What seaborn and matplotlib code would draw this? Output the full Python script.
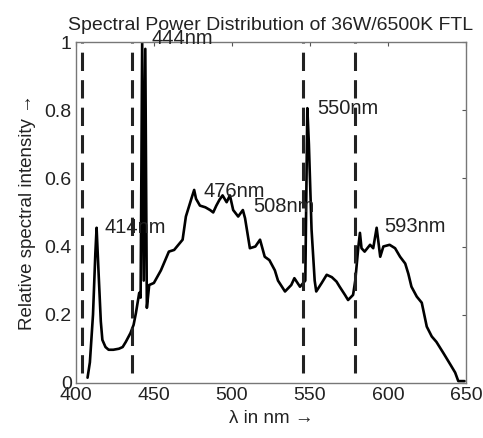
import matplotlib
matplotlib.use('Agg')
import matplotlib.pyplot as plt
import numpy as np
import pandas as pd
import seaborn as sns

# spectrum
wavelength = [407.5, 409, 411, 412.5, 413.3, 414.5, 416, 417, 419, 421, 424, 427.6, 430, 432,
              435, 437, 438.5, 440.6, 441.5, 442.5, 443.5, 444.5, 445.5, 447, 450, 454.5,
              459.6, 463, 468.4, 470.5, 474, 475.8, 477, 479.5, 483, 486, 488, 490, 492, 494,
              496.6, 498.7, 500.8, 504, 507, 508.4, 511.5, 515, 518, 521, 524, 527.5, 529.5,
              534, 538, 540, 543.6, 545.7, 547, 548.3, 549.3, 551, 553, 554, 557.5, 560.7,
              564, 567, 569, 572.4, 574.4, 577.6, 579, 581, 582, 583, 585, 588.5, 590.5,
              592.7, 595, 597, 601, 604.5, 607.7, 611, 613, 615, 618.4, 621.6, 624.8, 628,
              631, 635.5, 640, 643, 645, 649]
intensity = [0.015, 0.06, 0.2, 0.38, 0.455, 0.33, 0.18, 0.126, 0.105, 0.097, 0.097, 0.10, 0.105, 0.12,
             0.146, 0.17, 0.205, 0.264, 0.25, 1.0, 0.30, 0.98, 0.22, 0.287, 0.293, 0.33,
             0.385, 0.39, 0.42, 0.488, 0.54, 0.566, 0.54, 0.52, 0.515, 0.507, 0.50, 0.52, 0.537, 0.55,
             0.53, 0.55, 0.507, 0.488, 0.507, 0.483, 0.395, 0.40, 0.42, 0.37, 0.36, 0.33, 0.30,
             0.268, 0.287, 0.307, 0.282, 0.293, 0.30, 0.806, 0.70, 0.45, 0.30, 0.268, 0.293, 0.317,
             0.31, 0.297, 0.282, 0.258, 0.243, 0.258, 0.30, 0.40, 0.44, 0.395, 0.385, 0.405, 0.395,
             0.455, 0.37, 0.40, 0.405, 0.395, 0.37, 0.35, 0.32, 0.282, 0.253, 0.235, 0.165, 0.136,
             0.12, 0.087, 0.053, 0.03, 0.005, 0.005]

band_edges = [404, 436, 545.5, 579]

peak_labels = ['444nm', '414nm', '476nm', '508nm', '550nm', '593nm']
peak_label_x = [448.7, 418.6, 481.6, 513.7, 554.7, 597.4]
peak_label_y = [1.009, 0.455, 0.56, 0.517, 0.805, 0.458]

spd = pd.DataFrame({'wavelength': wavelength, 'intensity': intensity})

sns.set_style('white')
plt.rcParams['font.family'] = ['Liberation Sans', 'DejaVu Sans']
plt.rcParams['xtick.direction'] = 'in'
plt.rcParams['ytick.direction'] = 'in'

fig = plt.figure(figsize=(4.83, 4.38), dpi=100)
ax = fig.add_axes([0.157, 0.126, 0.808, 0.778])

sns.lineplot(data=spd, x='wavelength', y='intensity', color='black', linewidth=1.9,
             sort=False, ax=ax)
for xe in band_edges:
    ax.vlines(xe, 0.03, 1.0, colors='#222222', linestyles=(0, (6, 3)), linewidth=2.2)

for lab, lx, ly in zip(peak_labels, peak_label_x, peak_label_y):
    ax.text(lx, ly, lab, fontsize=14.5, va='center', ha='left', color='#222222')

ax.set_xlim(400, 650)
ax.set_ylim(0, 1)
ax.set_xticks([400, 450, 500, 550, 600, 650])
ax.set_yticks([0, 0.2, 0.4, 0.6, 0.8, 1])
ax.set_yticklabels(['0', '0.2', '0.4', '0.6', '0.8', '1'])
ax.tick_params(axis='both', labelsize=14, length=3, colors='#555555',
               top=True, right=True, labelcolor='#222222', pad=3)
for sp in ax.spines.values():
    sp.set_color('#777777')
    sp.set_linewidth(1.0)

ax.set_xlabel('λ in nm →', fontsize=13.5, color='#222222', labelpad=4)
ax.set_ylabel('Relative spectral intensity →', fontsize=13.5, color='#222222', labelpad=6)
ax.set_title('Spectral Power Distribution of 36W/6500K FTL', fontsize=14, color='#222222', pad=9)

fig.savefig('out.png', dpi=100)
